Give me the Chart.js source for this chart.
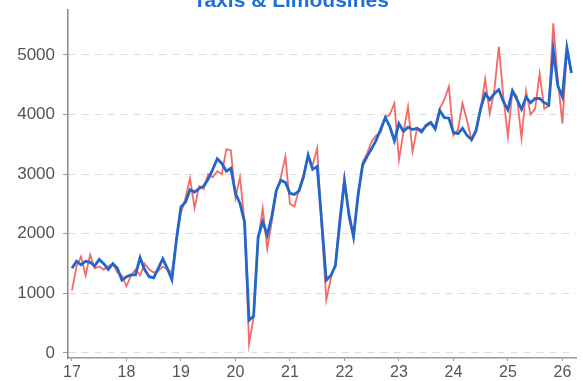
<!DOCTYPE html>
<html>
<head>
<meta charset="utf-8">
<script src="https://cdn.jsdelivr.net/npm/chart.js@4"></script>
<style>
  html, body { margin: 0; padding: 0; background: #fff; }
  #wrap { width: 583px; height: 381px; position: relative; }
</style>
</head>
<body>
<div id="wrap"><canvas id="myChart"></canvas></div>
<script>
  // monthly values, Jan 2017 .. Mar 2026
  const chartTitle = 'Taxis & Limousines';
  const firstYear = 17;
  const yearTicks = [17, 18, 19, 20, 21, 22, 23, 24, 25, 26];
  const valueTicks = [0, 1000, 2000, 3000, 4000, 5000];

  const monthly = [
    1050, 1450, 1620, 1300, 1650, 1420, 1450, 1400, 1450, 1500, 1350, 1300,
    1120, 1300, 1400, 1300, 1500, 1400, 1350, 1380, 1450, 1400, 1350, 1900,
    2350, 2600, 2930, 2430, 2800, 2750, 3000, 2950, 3050, 3000, 3420, 3400,
    2600, 2950, 2200, 150, 600, 1900, 2430, 1750, 2200, 2700, 2950, 3300,
    2500, 2460, 2750, 3000, 3300, 3150, 3440, 2100, 890, 1250, 1500, 2300,
    2950, 2250, 1950, 2600, 3200, 3350, 3550, 3650, 3700, 3950, 4000, 4190,
    3240, 3700, 4130, 3380, 3770, 3750, 3800, 3850, 3800, 4100, 4250, 4470,
    3650, 3750, 4190, 3900, 3570, 3700, 4100, 4600, 4020, 4400, 5140, 4300,
    3630, 4400, 4300, 3600, 4400, 4000, 4100, 4690, 4100, 4150, 5530, 4580,
    3850, 5100, 4700
  ];

  const trend = [
    1420, 1540, 1480, 1540, 1520, 1460, 1570, 1500, 1400, 1500, 1420, 1220,
    1280, 1310, 1310, 1600, 1400, 1280, 1260, 1420, 1580, 1420, 1230, 1900,
    2450, 2530, 2740, 2700, 2760, 2800, 2920, 3080, 3260, 3180, 3050, 3100,
    2680, 2510, 2200, 550, 620, 1950, 2200, 1980, 2290, 2730, 2900, 2860,
    2680, 2660, 2720, 2960, 3320, 3080, 3130, 2200, 1220, 1300, 1460, 2200,
    2880, 2330, 1950, 2650, 3150, 3300, 3430, 3570, 3760, 3950, 3800, 3560,
    3850, 3720, 3790, 3750, 3770, 3710, 3820, 3870, 3760, 4070, 3950, 3940,
    3700, 3680, 3770, 3650, 3580, 3740, 4100, 4350, 4250, 4350, 4420, 4220,
    4080, 4400, 4250, 4090, 4290, 4200, 4270, 4270, 4200, 4160, 5080, 4480,
    4300, 5120, 4700
  ];

  const toPoints = arr => arr.map((v, i) => ({ x: firstYear + i / 12, y: v }));

  const titlePlugin = {
    id: 'topTitle',
    afterDraw(chart) {
      const ctx = chart.ctx;
      ctx.save();
      ctx.font = 'bold 21px "Liberation Sans", Arial, sans-serif';
      ctx.fillStyle = '#1f6fd6';
      ctx.textAlign = 'center';
      ctx.textBaseline = 'alphabetic';
      ctx.fillText(chartTitle, 291, 7);
      ctx.restore();
    }
  };

  let myChart = document.getElementById('myChart').getContext('2d');

  let taxiChart = new Chart(myChart, {
    type: 'line',
    data: {
      datasets: [{
        label: 'Trend',
        data: toPoints(trend),
        borderColor: '#2266cc',
        borderWidth: 2.8,
        pointRadius: 0,
        tension: 0,
        fill: false
      }, {
        label: 'Monthly',
        data: toPoints(monthly),
        borderColor: '#f26b66',
        borderWidth: 1.8,
        pointRadius: 0,
        tension: 0,
        fill: false
      }]
    },
    options: {
      responsive: true,
      maintainAspectRatio: false,
      animation: false,
      layout: { padding: { top: 10, right: 7, left: 0, bottom: 0 } },
      plugins: {
        legend: { display: false },
        tooltip: { enabled: false },
        title: { display: false }
      },
      scales: {
        x: {
          type: 'linear',
          min: 16.927,
          max: 26.25,
          afterBuildTicks: scale => { scale.ticks = yearTicks.map(v => ({ value: v })); },
          afterFit: scale => { scale.height = 23; scale.paddingLeft = 0; scale.paddingRight = 0; },
          grid: { drawOnChartArea: false, drawTicks: true, tickLength: 3, color: '#999' },
          border: { display: true, color: '#999', width: 1.5 },
          ticks: {
            color: '#555',
            padding: 2,
            maxRotation: 0,
            font: { size: 16, family: '"Liberation Sans", Arial, sans-serif' },
            callback: v => String(v)
          }
        },
        y: {
          min: -84,
          max: 5755,
          afterBuildTicks: scale => { scale.ticks = valueTicks.map(v => ({ value: v })); },
          afterFit: scale => { scale.width = 68; scale.paddingTop = 0; scale.paddingBottom = 0; },
          grid: { color: '#dcdcdc', lineWidth: 1, tickLength: 5, tickColor: '#999' },
          border: { display: true, color: '#888', width: 1.5, dash: [7, 6] },
          ticks: {
            color: '#555',
            padding: 8,
            font: { size: 17, family: '"Liberation Sans", Arial, sans-serif' },
            callback: v => String(v)
          }
        }
      }
    },
    plugins: [titlePlugin]
  });
</script>
</body>
</html>
